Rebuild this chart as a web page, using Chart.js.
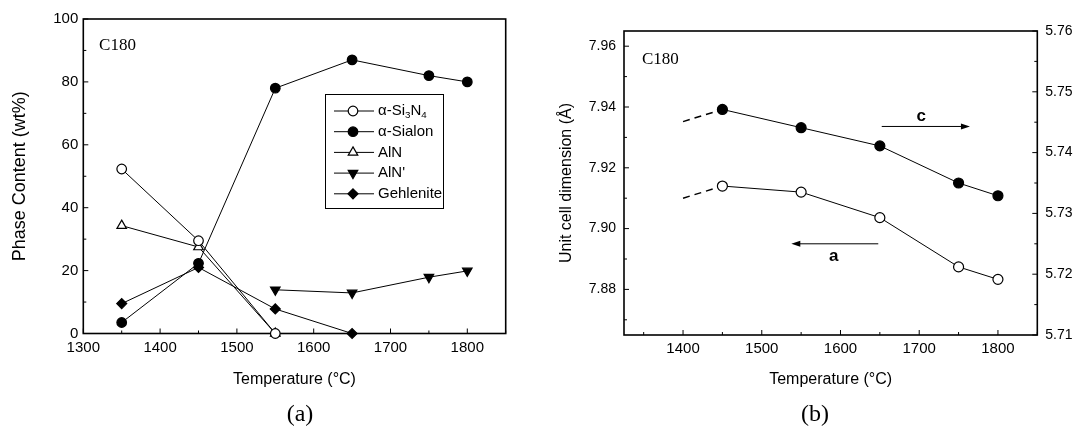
<!DOCTYPE html>
<html>
<head>
<meta charset="utf-8">
<script src="https://cdn.jsdelivr.net/npm/chart.js@4.4.1/dist/chart.umd.min.js"></script>
<style>
  html, body { margin: 0; padding: 0; background: #fff; }
  #wrap { position: relative; width: 1074px; height: 429px; }
  .panel { position: absolute; top: 0; width: 537px; height: 429px; }
</style>
</head>
<body>
<div id="wrap">
  <div class="panel" style="left:0"><canvas id="phase"></canvas></div>
  <div class="panel" style="left:537px"><canvas id="cell"></canvas></div>
</div>
<script>
// (a) phase content, wt%
const tempsA = [1350, 1450, 1550, 1650, 1750, 1800]
const si3n4 = [52.3, 29.5, 0, null, null, null]
const sialon = [3.5, 22.3, 78, 87, 82, 80]
const aln = [34.3, 27.5, 0, null, null, null]
const alnPrime = [null, null, 13.9, 12.9, 17.9, 19.9]
const gehlenite = [9.5, 21, 7.8, 0, null, null]
const xTicksA = [1300, 1400, 1500, 1600, 1700, 1800]
const yTicksA = [0, 20, 40, 60, 80, 100]

// (b) unit cell dimensions, a (left axis) and c (right axis)
const tempsB = [1450, 1550, 1650, 1750, 1800]
const cellA = [7.914, 7.912, 7.9036, 7.8874, 7.8833]
const cellC = [5.7471, 5.7441, 5.7411, 5.7350, 5.7329]
const extraTemps = [1400, 1450]
const extraA = [7.910, 7.914]
const extraC = [5.7451, 5.7471]
const xTicksB = [1400, 1500, 1600, 1700, 1800]
const yTicksB = [7.88, 7.90, 7.92, 7.94, 7.96]
const y2TicksB = [5.71, 5.72, 5.73, 5.74, 5.75, 5.76]

const SANS = "'Liberation Sans', Arial, sans-serif"
const SERIF = "'Liberation Serif', 'Times New Roman', serif"
Chart.defaults.font.family = SANS
Chart.defaults.color = '#000'
Chart.defaults.animation = false

const pts = (xs, ys) => xs.map((x, i) => ({ x, y: ys[i] })).filter(p => p.y !== null)
const fixTicks = arr => s => { s.ticks = arr.map(v => ({ value: v })) }

function series(label, xs, ys, style, fill, r, extra) {
    return Object.assign({
        label,
        data: pts(xs, ys),
        borderColor: '#000',
        borderWidth: 1,
        pointStyle: style,
        pointRadius: r,
        pointBackgroundColor: fill,
        pointBorderColor: '#000',
        pointBorderWidth: 1.2,
        pointRotation: 0,
        tension: 0,
        clip: false,
    }, extra || {})
}

function marker(ctx, style, x, y, r, fill, rot) {
    ctx.save()
    ctx.translate(x, y)
    ctx.rotate((rot || 0) * Math.PI / 180)
    ctx.beginPath()
    if (style === 'circle') {
        ctx.arc(0, 0, r, 0, Math.PI * 2)
    } else if (style === 'triangle') {
        for (let k = 0; k < 3; k++) {
            const a = k * 2 * Math.PI / 3
            ctx.lineTo(Math.sin(a) * r, -Math.cos(a) * r)
        }
        ctx.closePath()
    } else {
        ctx.moveTo(0, -r); ctx.lineTo(r, 0); ctx.lineTo(0, r); ctx.lineTo(-r, 0)
        ctx.closePath()
    }
    ctx.fillStyle = fill
    ctx.fill()
    ctx.lineWidth = 1.2
    ctx.strokeStyle = '#000'
    ctx.stroke()
    ctx.restore()
}

// text with digits as subscripts (α-Si3N4)
function richText(ctx, text, x, y, size) {
    let cx = x
    for (const ch of text) {
        const sub = /\d/.test(ch)
        ctx.font = (sub ? size * 0.65 : size) + 'px ' + SANS
        ctx.fillText(ch, cx, y + (sub ? size * 0.3 : 0))
        cx += ctx.measureText(ch).width
    }
}

// box around the plot with inward major and minor ticks
const frame = {
    id: 'frame',
    beforeDatasetsDraw(chart) {
        const { ctx, chartArea: a } = chart
        ctx.save()
        ctx.strokeStyle = '#000'
        ctx.lineWidth = 1.6
        ctx.strokeRect(a.left, a.top, a.right - a.left, a.bottom - a.top)
        ctx.lineWidth = 1
        Object.values(chart.scales).forEach(s => {
            const major = s.ticks.map(t => t.value)
            const step = major[1] - major[0]
            const marks = major.map(v => [v, 5])
            for (let v = major[0] - step / 2; v <= s.max + 1e-9; v += step) {
                if (v >= s.min - 1e-9) marks.push([v, 3])
            }
            marks.forEach(([v, len]) => {
                const p = s.getPixelForValue(v)
                ctx.beginPath()
                if (s.axis === 'x') { ctx.moveTo(p, a.bottom); ctx.lineTo(p, a.bottom - len) }
                else if (s.position === 'left') { ctx.moveTo(a.left, p); ctx.lineTo(a.left + len, p) }
                else { ctx.moveTo(a.right, p); ctx.lineTo(a.right - len, p) }
                ctx.stroke()
            })
        })
        ctx.restore()
    }
}

// free text and arrows, placed through the scales
const notes = {
    id: 'notes',
    afterDraw(chart, args, o) {
        const { ctx } = chart
        ctx.save()
        ctx.fillStyle = '#000'
        ctx.strokeStyle = '#000'
        ctx.textBaseline = 'middle';
        (o.texts || []).forEach(t => {
            ctx.font = t.font
            ctx.textAlign = t.align || 'center'
            const x = t.px !== undefined ? t.px : chart.scales.x.getPixelForValue(t.x)
            const y = t.py !== undefined ? t.py : chart.scales[t.axis || 'y'].getPixelForValue(t.y)
            ctx.fillText(t.text, x, y)
        });
        (o.arrows || []).forEach(ar => {
            const sy = chart.scales[ar.axis]
            const x1 = chart.scales.x.getPixelForValue(ar.from)
            const x2 = chart.scales.x.getPixelForValue(ar.to)
            const y = sy.getPixelForValue(ar.y)
            const dir = Math.sign(x2 - x1)
            ctx.lineWidth = 1
            ctx.beginPath(); ctx.moveTo(x1, y); ctx.lineTo(x2 - dir * 6, y); ctx.stroke()
            ctx.beginPath()
            ctx.moveTo(x2, y); ctx.lineTo(x2 - dir * 9, y - 3); ctx.lineTo(x2 - dir * 9, y + 3)
            ctx.closePath(); ctx.fill()
        })
        ctx.restore()
    }
}

// legend box inside panel (a)
const boxLegend = {
    id: 'boxLegend',
    afterDraw(chart, args, o) {
        const { ctx } = chart
        ctx.save()
        ctx.fillStyle = '#fff'
        ctx.fillRect(o.x, o.y, o.w, o.h)
        ctx.strokeStyle = '#000'
        ctx.lineWidth = 1
        ctx.strokeRect(o.x + 0.5, o.y + 0.5, o.w, o.h)
        chart.data.datasets.forEach((ds, i) => {
            const y = o.y + o.first + i * o.gap
            ctx.beginPath()
            ctx.moveTo(o.x + 9, y); ctx.lineTo(o.x + 49, y)
            ctx.lineWidth = ds.borderWidth
            ctx.stroke()
            marker(ctx, ds.pointStyle, o.x + 28, y, ds.pointRadius, ds.pointBackgroundColor, ds.pointRotation)
            ctx.fillStyle = '#000'
            ctx.textAlign = 'left'
            ctx.textBaseline = 'middle'
            richText(ctx, ds.label, o.x + 53, y, 15)
        })
        ctx.restore()
    }
}

new Chart(document.getElementById('phase'), {
    type: 'line',
    data: {
        datasets: [
            series('α-Si3N4', tempsA, si3n4, 'circle', '#fff', 4.8),
            series('α-Sialon', tempsA, sialon, 'circle', '#000', 4.8),
            series('AlN', tempsA, aln, 'triangle', '#fff', 5.5),
            series("AlN'", tempsA, alnPrime, 'triangle', '#000', 5.5, { pointRotation: 180 }),
            series('Gehlenite', tempsA, gehlenite, 'rectRot', '#000', 5),
        ],
    },
    options: {
        responsive: true,
        maintainAspectRatio: false,
        layout: { padding: { left: 0, top: 19, right: 31.3, bottom: 0 } },
        events: [],
        scales: {
            x: {
                type: 'linear', min: 1300, max: 1850,
                afterBuildTicks: fixTicks(xTicksA),
                afterFit: s => { s.height = 95.5 },
                grid: { display: false, drawTicks: false },
                border: { display: false },
                ticks: { padding: 5, font: { size: 15 }, callback: v => String(v) },
                title: { display: true, text: 'Temperature (°C)', font: { size: 16 }, padding: { top: 0, bottom: 39.4 } },
            },
            y: {
                min: 0, max: 100,
                afterBuildTicks: fixTicks(yTicksA),
                afterFit: s => { s.width = 83.3 },
                grid: { display: false, drawTicks: false },
                border: { display: false },
                ticks: { padding: 5, font: { size: 15 }, callback: v => String(v) },
                title: { display: true, text: 'Phase Content (wt%)', font: { size: 18 }, padding: { top: 9.2, bottom: 0 } },
            },
        },
        plugins: {
            legend: { display: false },
            tooltip: { enabled: false },
            boxLegend: { x: 325, y: 94, w: 118, h: 114, first: 17, gap: 20.7 },
            notes: {
                texts: [
                    { text: 'C180', x: 1320.5, y: 91.7, align: 'left', font: '17px ' + SERIF },
                    { text: '(a)', px: 300, py: 415, font: '24px ' + SERIF },
                ],
            },
        },
    },
    plugins: [frame, boxLegend, notes],
})

new Chart(document.getElementById('cell'), {
    type: 'line',
    data: {
        datasets: [
            series('a', tempsB, cellA, 'circle', '#fff', 5, { yAxisID: 'y' }),
            series('c', tempsB, cellC, 'circle', '#000', 5, { yAxisID: 'y2' }),
            series('a extrapolated', extraTemps, extraA, 'circle', '#fff', 0, { yAxisID: 'y', borderWidth: 1.5, borderDash: [7, 5] }),
            series('c extrapolated', extraTemps, extraC, 'circle', '#000', 0, { yAxisID: 'y2', borderWidth: 1.5, borderDash: [7, 5] }),
        ],
    },
    options: {
        responsive: true,
        maintainAspectRatio: false,
        layout: { padding: { left: 0, top: 31, right: 0, bottom: 0 } },
        events: [],
        scales: {
            x: {
                type: 'linear', min: 1325, max: 1850,
                afterBuildTicks: fixTicks(xTicksB),
                afterFit: s => { s.height = 94 },
                grid: { display: false, drawTicks: false },
                border: { display: false },
                ticks: { padding: 5, font: { size: 15 }, callback: v => String(v) },
                title: { display: true, text: 'Temperature (°C)', font: { size: 16 }, padding: { top: 0, bottom: 39.4 } },
            },
            y: {
                position: 'left', min: 7.865, max: 7.965,
                afterBuildTicks: fixTicks(yTicksB),
                afterFit: s => { s.width = 87 },
                grid: { display: false, drawTicks: false },
                border: { display: false },
                ticks: { padding: 8, font: { size: 14 }, callback: v => v.toFixed(2) },
                title: { display: true, text: 'Unit cell dimension (Å)', font: { size: 16 }, padding: { top: 20.4, bottom: 0 } },
            },
            y2: {
                position: 'right', min: 5.71, max: 5.76,
                afterBuildTicks: fixTicks(y2TicksB),
                afterFit: s => { s.width = 36.7 },
                grid: { display: false, drawTicks: false, drawOnChartArea: false },
                border: { display: false },
                ticks: { padding: 8, font: { size: 14 }, callback: v => v.toFixed(2) },
            },
        },
        plugins: {
            legend: { display: false },
            tooltip: { enabled: false },
            notes: {
                texts: [
                    { text: 'C180', x: 1347.9, y: 7.9555, align: 'left', font: '17px ' + SERIF },
                    { text: 'c', x: 1702.7, y: 5.7459, axis: 'y2', font: 'bold 17px ' + SANS },
                    { text: 'a', x: 1591.5, y: 7.891, axis: 'y', font: 'bold 17px ' + SANS },
                    { text: '(b)', px: 278, py: 415, font: '24px ' + SERIF },
                ],
                arrows: [
                    { from: 1652.4, to: 1764.4, y: 5.7443, axis: 'y2' },
                    { from: 1648, to: 1537.5, y: 7.895, axis: 'y' },
                ],
            },
        },
    },
    plugins: [frame, notes],
})
</script>
</body>
</html>
